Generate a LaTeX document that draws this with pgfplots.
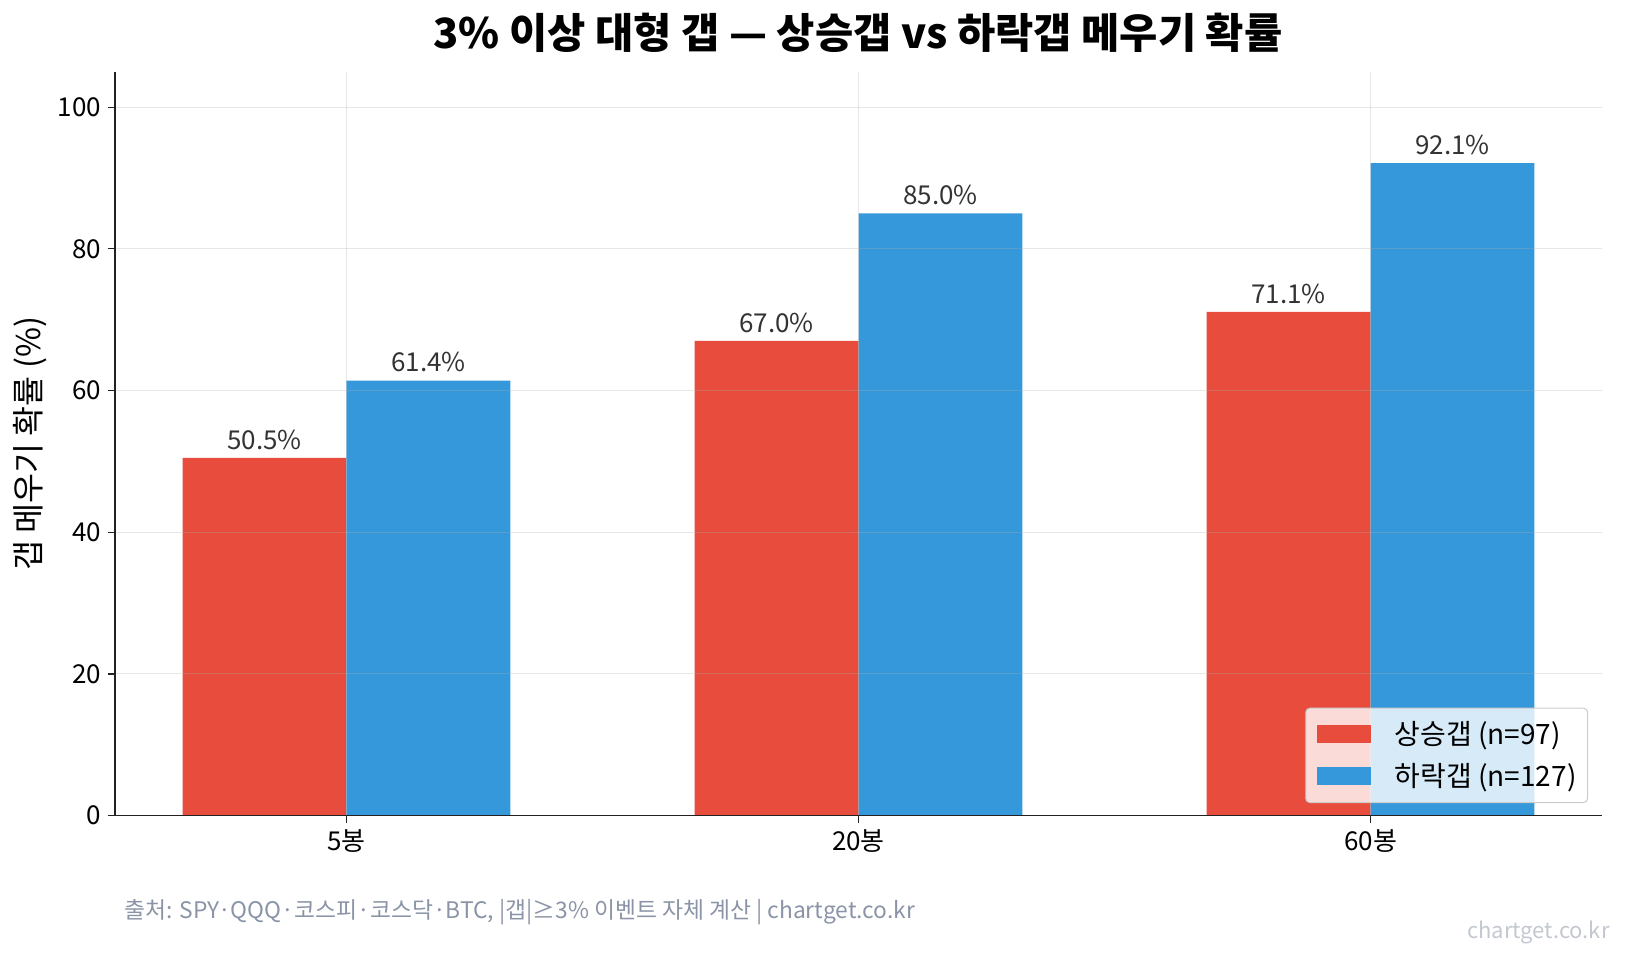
\documentclass[border=0pt]{standalone}
\usepackage{fontspec}
\setmainfont{Noto Sans CJK KR}
\usepackage{pgfplots}
\pgfplotsset{compat=1.18}
\definecolor{cred}{HTML}{E74C3C}
\definecolor{cblue}{HTML}{3498DB}
\definecolor{axc}{HTML}{222222}
\definecolor{lab}{HTML}{333333}
\definecolor{src}{HTML}{8A94A6}
\definecolor{wm}{HTML}{C3C8D0}
\definecolor{gridc}{HTML}{B0B0B0}
\definecolor{legc}{HTML}{CCCCCC}
\begin{document}
\begin{tikzpicture}
\path[use as bounding box] (0,0) rectangle (812.5pt,479.5pt);
\begin{axis}[
  at={(57.5pt,71.65pt)}, anchor=south west,
  scale only axis, width=743.5pt, height=372pt,
  xmin=-0.452, xmax=2.452, ymin=0, ymax=105,
  axis x line*=bottom, axis y line*=left,
  axis line style={-, axc, line width=0.6pt},
  x axis line style={-}, y axis line style={-},
  xtick={0,1,2}, xticklabels={5봉,20봉,60봉},
  ytick={0,20,40,60,80,100},
  tick align=outside, major tick length=3.5pt,
  xtick pos=bottom, ytick pos=left,
  tick style={axc, line width=0.6pt},
  every tick label/.append style={font=\fontsize{13}{15}\selectfont, text=black},
  /pgf/number format/assume math mode=true,
  grid=major, grid style={gridc, opacity=0.3, line width=0.5pt},
  axis on top,
  ylabel={갭 메우기 확률 (\%)},
  ylabel style={font=\fontsize{16.3}{19}\selectfont, at={(axis description cs:-0.0572,0.5)}, anchor=center},
  legend style={at={(axis description cs:0.9906,0.017)}, anchor=south east,
    draw=legc, line width=0.5pt, rounded corners=2pt, fill=white, fill opacity=0.8,
    text opacity=1, draw opacity=1, font=\fontsize{14}{16}\selectfont,
    inner xsep=5.5pt, inner ysep=6.5pt, row sep=8pt, column sep=12pt,
    nodes={inner sep=0pt}, cells={anchor=west}},
  legend image code/.code={\fill[#1, fill opacity=1, sharp corners] (0pt,-4.5pt) rectangle (27pt,4.5pt);},
  nodes near coords={\pgfmathprintnumber[fixed,fixed zerofill,precision=1]{\pgfplotspointmeta}\%},
  every node near coord/.append style={font=\fontsize{13}{15}\selectfont, text=lab, anchor=south, inner sep=0pt, yshift=4pt},
]
\addplot[ybar, bar width=0.32, bar shift=0, fill=cred, draw=none] coordinates {(-0.16,50.5) (0.84,67.0) (1.84,71.1)};
\addlegendentry{상승갭 (n=97)}
\addplot[ybar, bar width=0.32, bar shift=0, fill=cblue, draw=none] coordinates {(0.16,61.4) (1.16,85.0) (2.16,92.1)};
\addlegendentry{하락갭 (n=127)}
\end{axis}
\node[font=\bfseries\fontsize{20.8}{24}\selectfont] at (429pt,463pt) {3\% 이상 대형 갭 — 상승갭 vs 하락갭 메우기 확률};
\node[anchor=west, font=\fontsize{11.4}{13}\selectfont, text=src, inner sep=0pt] at (62pt,23.5pt) {출처: SPY·QQQ·코스피·코스닥·BTC, |갭|≥3\% 이벤트 자체 계산 | chartget.co.kr};
\node[anchor=east, font=\fontsize{11}{13}\selectfont, text=wm, inner sep=0pt] at (805pt,13.5pt) {chartget.co.kr};
\end{tikzpicture}
\end{document}
